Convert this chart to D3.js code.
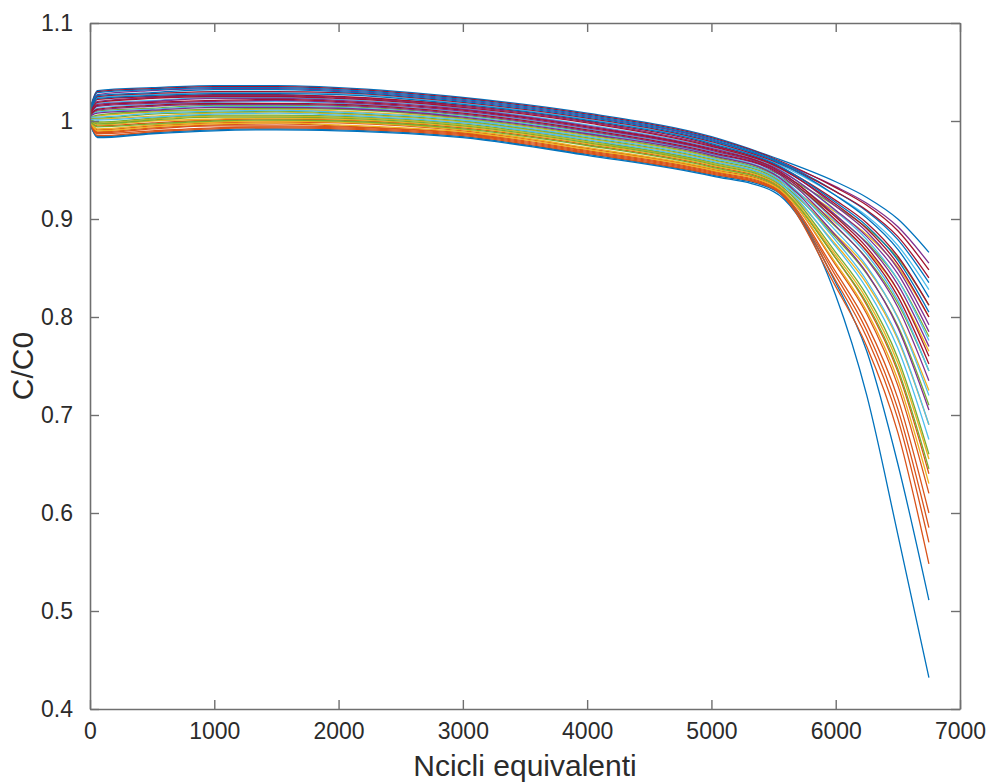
<!DOCTYPE html>
<html>
<head>
<meta charset="utf-8">
<script src="https://cdn.jsdelivr.net/npm/d3@7"></script>
<style>
  body { margin: 0; background: #ffffff; }
  svg { display: block; }
</style>
</head>
<body>
<svg id="chart" width="991" height="784"></svg>
<script>
// ---------------- data ----------------
const cycles = [0, 60, 500, 1000, 1500, 2000, 3000, 4000, 5000, 5500, 6000, 6250, 6500, 6750];

// C/C0 read at each value of `cycles`, one row per simulated curve (in plotting order)
const capacityCurves = [
  [1.012,1.031,1.034,1.036,1.036,1.034,1.024,1.008,0.984,0.963,0.938,0.922,0.900,0.866],
  [1.001,0.995,0.998,1.001,1.002,1.001,0.993,0.976,0.954,0.937,0.860,0.812,0.744,0.640],
  [1.004,1.005,1.009,1.011,1.012,1.010,1.002,0.985,0.963,0.945,0.907,0.884,0.851,0.800],
  [1.011,1.027,1.031,1.033,1.033,1.031,1.021,1.005,0.981,0.960,0.933,0.916,0.892,0.855],
  [1.005,1.010,1.013,1.016,1.016,1.015,1.006,0.989,0.966,0.948,0.913,0.891,0.860,0.812],
  [1.010,1.024,1.027,1.029,1.029,1.028,1.018,1.002,0.978,0.958,0.924,0.903,0.873,0.828],
  [1.011,1.030,1.033,1.035,1.035,1.033,1.023,1.007,0.983,0.962,0.932,0.914,0.888,0.848],
  [1.011,1.029,1.032,1.034,1.034,1.032,1.022,1.006,0.982,0.961,0.928,0.908,0.879,0.835],
  [0.999,0.991,0.995,0.998,0.999,0.998,0.990,0.972,0.951,0.935,0.853,0.803,0.730,0.620],
  [1.003,1.002,1.005,1.008,1.009,1.007,0.999,0.982,0.960,0.942,0.896,0.868,0.827,0.765],
  [1.009,1.020,1.024,1.026,1.026,1.024,1.015,0.999,0.975,0.956,0.913,0.887,0.849,0.792],
  [1.004,1.006,1.010,1.012,1.013,1.012,1.003,0.986,0.964,0.946,0.903,0.876,0.838,0.780],
  [1.008,1.018,1.021,1.024,1.024,1.022,1.013,0.996,0.973,0.954,0.908,0.879,0.838,0.776],
  [1.010,1.025,1.028,1.030,1.030,1.029,1.019,1.003,0.979,0.959,0.928,0.909,0.882,0.840],
  [1.011,1.026,1.029,1.032,1.032,1.030,1.020,1.004,0.980,0.960,0.924,0.901,0.869,0.820],
  [0.999,0.989,0.993,0.996,0.997,0.995,0.988,0.970,0.949,0.933,0.846,0.793,0.717,0.600],
  [1.002,0.998,1.002,1.005,1.005,1.004,0.996,0.979,0.957,0.940,0.884,0.850,0.800,0.725],
  [1.008,1.017,1.020,1.023,1.023,1.021,1.012,0.995,0.972,0.953,0.909,0.882,0.844,0.785],
  [1.003,1.003,1.007,1.009,1.010,1.008,1.000,0.983,0.961,0.943,0.892,0.860,0.814,0.745],
  [1.007,1.013,1.017,1.019,1.020,1.018,1.009,0.992,0.969,0.951,0.897,0.864,0.817,0.745],
  [1.009,1.022,1.025,1.027,1.027,1.025,1.016,1.000,0.976,0.956,0.919,0.896,0.862,0.812],
  [1.009,1.023,1.026,1.028,1.028,1.027,1.017,1.001,0.977,0.957,0.917,0.893,0.858,0.805],
  [0.998,0.988,0.992,0.995,0.995,0.994,0.987,0.969,0.948,0.932,0.842,0.786,0.706,0.585],
  [1.001,0.996,1.000,1.002,1.003,1.002,0.994,0.977,0.955,0.938,0.874,0.834,0.777,0.690],
  [1.007,1.015,1.018,1.020,1.021,1.019,1.010,0.993,0.970,0.951,0.904,0.875,0.833,0.770],
  [1.002,0.999,1.003,1.006,1.006,1.005,0.997,0.980,0.958,0.941,0.881,0.844,0.791,0.710],
  [1.005,1.009,1.012,1.015,1.015,1.014,1.005,0.988,0.966,0.947,0.888,0.852,0.799,0.720],
  [1.008,1.019,1.023,1.025,1.025,1.023,1.014,0.998,0.974,0.955,0.915,0.890,0.854,0.800],
  [0.997,0.984,0.988,0.991,0.992,0.991,0.984,0.966,0.945,0.930,0.835,0.765,0.650,0.511],
  [0.998,0.987,0.990,0.993,0.994,0.993,0.986,0.968,0.947,0.931,0.837,0.779,0.696,0.570],
  [1.000,0.992,0.996,0.999,1.000,0.999,0.991,0.973,0.952,0.936,0.863,0.818,0.753,0.655],
  [1.006,1.011,1.015,1.017,1.017,1.016,1.007,0.990,0.967,0.949,0.893,0.859,0.810,0.735],
  [1.001,0.997,1.001,1.004,1.004,1.003,0.995,0.978,0.956,0.939,0.866,0.822,0.758,0.660],
  [1.004,1.004,1.008,1.010,1.011,1.009,1.001,0.984,0.962,0.944,0.878,0.837,0.779,0.690],
  [1.007,1.016,1.019,1.021,1.022,1.020,1.011,0.994,0.971,0.952,0.902,0.871,0.827,0.760],
  [0.997,0.983,0.987,0.990,0.991,0.990,0.983,0.965,0.944,0.928,0.822,0.720,0.578,0.432],
  [0.998,0.985,0.989,0.992,0.993,0.992,0.985,0.967,0.946,0.931,0.831,0.770,0.682,0.548],
  [0.999,0.990,0.994,0.997,0.998,0.996,0.989,0.971,0.950,0.934,0.855,0.806,0.736,0.630],
  [1.005,1.008,1.011,1.014,1.014,1.013,1.004,0.987,0.965,0.946,0.883,0.845,0.789,0.705],
  [1.000,0.994,0.997,1.000,1.001,1.000,0.992,0.975,0.953,0.936,0.860,0.814,0.747,0.645],
  [1.002,1.001,1.004,1.007,1.008,1.006,0.998,0.981,0.959,0.941,0.872,0.829,0.768,0.675],
  [1.006,1.012,1.016,1.018,1.018,1.017,1.008,0.991,0.968,0.950,0.899,0.867,0.821,0.752]
];

const xTicks = [0, 1000, 2000, 3000, 4000, 5000, 6000, 7000];
const yTicks = [0.4, 0.5, 0.6, 0.7, 0.8, 0.9, 1.0, 1.1];
const xTitle = "Ncicli equivalenti";
const yTitle = "C/C0";

// MATLAB default colour order (cycled per line)
const colorOrder = ["#0072BD", "#D95319", "#EDB120", "#7E2F8E", "#77AC30", "#4DBEEE", "#A2142F"];

// ---------------- layout ----------------
const W = 991, H = 784;
const plot = { left: 90, right: 960, top: 23, bottom: 709 };
const font = "'Liberation Sans', Arial, Helvetica, sans-serif";
const axisColor = "#6f6f6f";
const textColor = "#2b2b2b";

const svg = d3.select("#chart");
svg.append("rect").attr("width", W).attr("height", H).attr("fill", "#fff");

const x = d3.scaleLinear().domain([0, 7000]).range([plot.left, plot.right]);
const y = d3.scaleLinear().domain([0.4, 1.1]).range([plot.bottom, plot.top]);

svg.append("clipPath").attr("id", "clip")
  .append("rect")
  .attr("x", plot.left).attr("y", plot.top)
  .attr("width", plot.right - plot.left).attr("height", plot.bottom - plot.top);

const line = d3.line()
  .x((d, i) => x(cycles[i]))
  .y(d => y(d))
  .curve(d3.curveMonotoneX);

svg.append("g").attr("clip-path", "url(#clip)")
  .selectAll("path")
  .data(capacityCurves)
  .join("path")
  .attr("d", line)
  .attr("fill", "none")
  .attr("stroke", (d, i) => colorOrder[i % colorOrder.length])
  .attr("stroke-width", 1.3)
  .attr("stroke-linejoin", "round");

// ---------------- axes (MATLAB style box, ticks inside on all sides) ----------------
const tickLen = 9;
const fmtX = d3.format("d");
const fmtY = v => (Math.abs(v - 1) < 1e-9 ? "1" : d3.format(".1f")(v));

const gBottom = svg.append("g").attr("transform", `translate(0,${plot.bottom})`)
  .call(d3.axisBottom(x).tickValues(xTicks).tickFormat(fmtX).tickSizeInner(-tickLen).tickSizeOuter(0).tickPadding(14));
const gTop = svg.append("g").attr("transform", `translate(0,${plot.top})`)
  .call(d3.axisTop(x).tickValues(xTicks).tickFormat("").tickSizeInner(-tickLen).tickSizeOuter(0));
const gLeft = svg.append("g").attr("transform", `translate(${plot.left},0)`)
  .call(d3.axisLeft(y).tickValues(yTicks).tickFormat(fmtY).tickSizeInner(-tickLen).tickSizeOuter(0).tickPadding(17));
const gRight = svg.append("g").attr("transform", `translate(${plot.right},0)`)
  .call(d3.axisRight(y).tickValues(yTicks).tickFormat("").tickSizeInner(-tickLen).tickSizeOuter(0));

[gBottom, gTop, gLeft, gRight].forEach(g => {
  g.select(".domain").attr("stroke", axisColor).attr("stroke-width", 1.6);
  g.selectAll(".tick line").attr("stroke", axisColor).attr("stroke-width", 1.4);
  g.selectAll(".tick text")
    .attr("fill", textColor)
    .style("font-family", font)
    .style("font-size", "23px");
});

// axis titles
svg.append("text")
  .attr("x", (plot.left + plot.right) / 2)
  .attr("y", 776)
  .attr("text-anchor", "middle")
  .attr("fill", textColor)
  .style("font-family", font)
  .style("font-size", "30px")
  .text(xTitle);

svg.append("text")
  .attr("transform", `translate(33,${(plot.top + plot.bottom) / 2}) rotate(-90)`)
  .attr("text-anchor", "middle")
  .attr("fill", textColor)
  .style("font-family", font)
  .style("font-size", "30px")
  .text(yTitle);
</script>
</body>
</html>
